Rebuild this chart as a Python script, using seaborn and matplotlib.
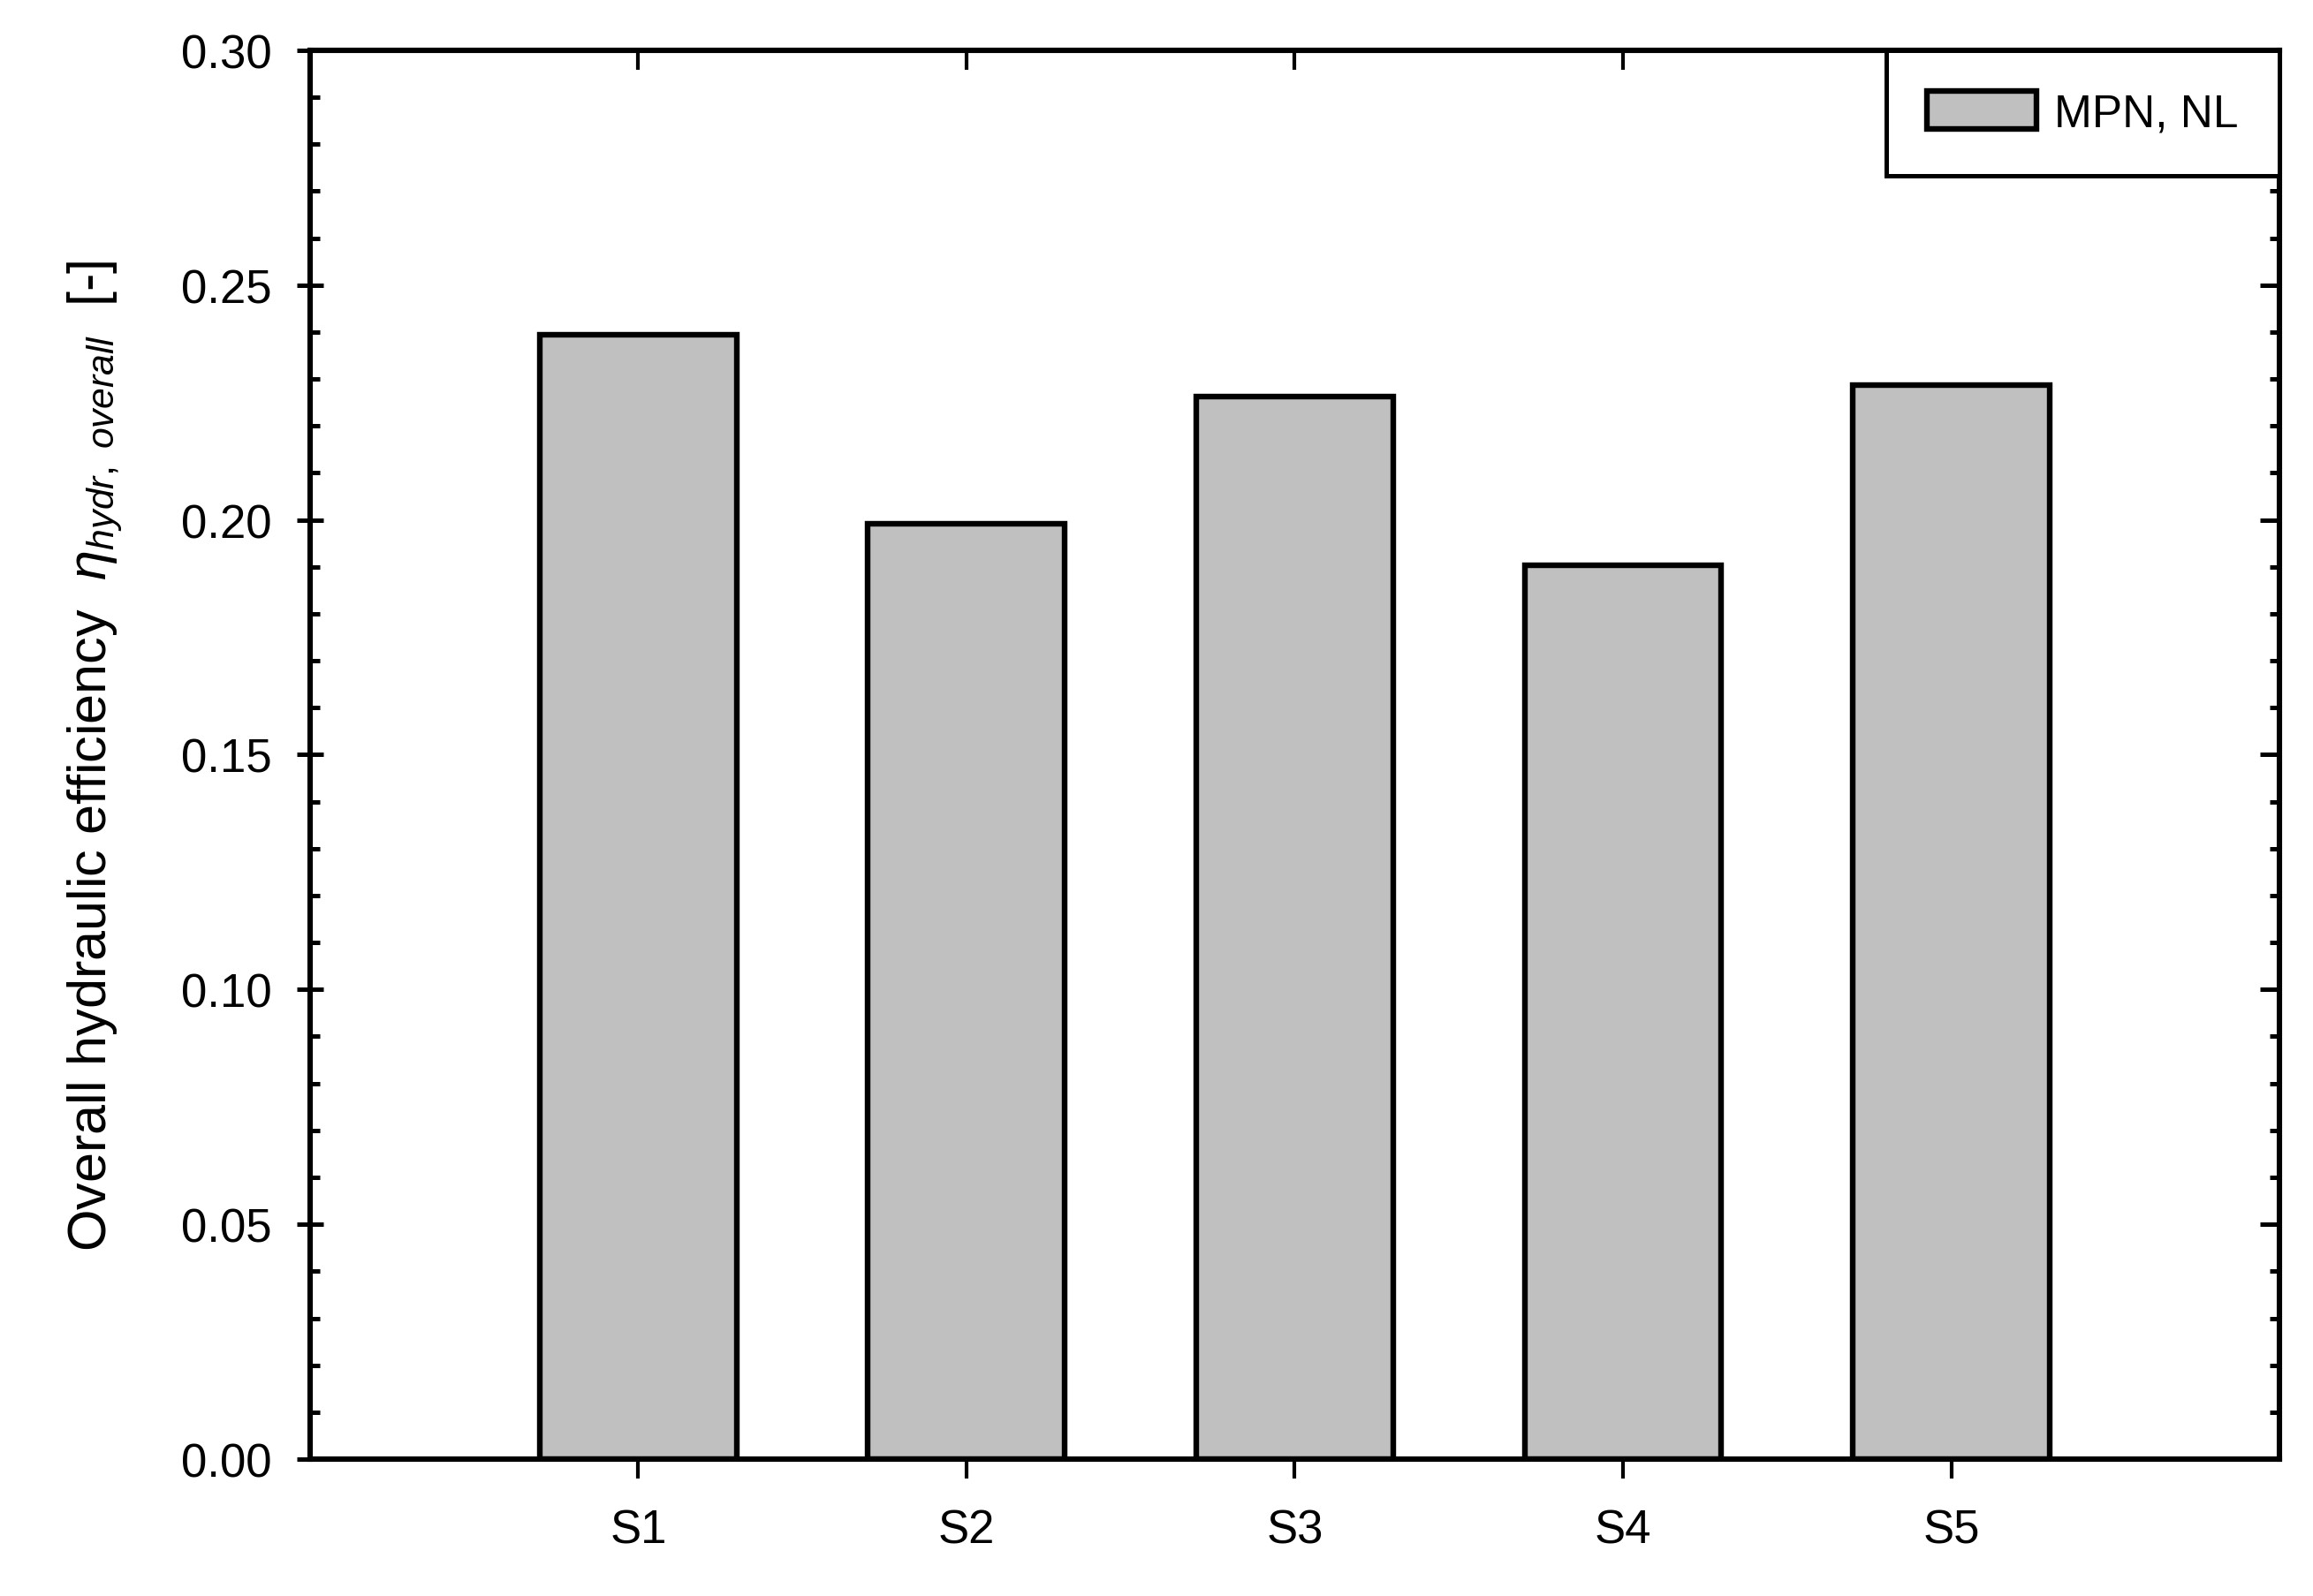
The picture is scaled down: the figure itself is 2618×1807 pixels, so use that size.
import matplotlib
matplotlib.use("Agg")
import matplotlib.pyplot as plt
import seaborn as sns
import pandas as pd
from matplotlib.ticker import MultipleLocator

categories = ["S1", "S2", "S3", "S4", "S5"]
values = [0.2394, 0.1992, 0.2262, 0.1904, 0.2287]
series_name = "MPN, NL"

sns.set_theme(style="white")
plt.rcParams['font.family'] = ['Liberation Sans', 'DejaVu Sans']
plt.rcParams['mathtext.fontset'] = 'custom'
plt.rcParams['mathtext.rm'] = 'Liberation Sans'
plt.rcParams['mathtext.it'] = 'Liberation Sans:italic'
plt.rcParams['text.color'] = 'black'
plt.rcParams['axes.labelcolor'] = 'black'
plt.rcParams['xtick.color'] = 'black'
plt.rcParams['ytick.color'] = 'black'

df = pd.DataFrame({"cat": categories, "val": values})

fig = plt.figure(figsize=(26.18, 18.08), dpi=100)
ax = fig.add_axes([0.134, 0.0857, 0.8515, 0.8823])

sns.barplot(data=df, x="cat", y="val", color="#c0c0c0", saturation=1,
            edgecolor="black", linewidth=4.6, width=0.6, label=series_name, ax=ax)

ax.set_xlim(-1, 5)
ax.set_ylim(0, 0.30)
ax.yaxis.set_major_locator(MultipleLocator(0.05))
ax.yaxis.set_minor_locator(MultipleLocator(0.01))
ax.yaxis.set_major_formatter(matplotlib.ticker.FormatStrFormatter('%.2f'))

for s in ax.spines.values():
    s.set_linewidth(4.4)
    s.set_color("black")
    s.set_visible(True)

ax.tick_params(axis='y', which='major', direction='inout', length=22, width=3.6,
               labelsize=38, pad=20, left=True, right=False, colors='black')
ax.tick_params(axis='y', which='minor', direction='in', length=8, width=3.6, left=True, right=False)
ax.tick_params(axis='x', which='major', direction='out', length=16, width=3,
               labelsize=38, pad=24, bottom=True, top=False, colors='black')

# top and right mirrored ticks pointing inward
secx = ax.secondary_xaxis('top')
secx.set_xticks(range(len(categories)))
secx.tick_params(direction='in', length=16, width=3, labeltop=False)
secx.spines['top'].set_visible(False)
secy = ax.secondary_yaxis('right')
secy.yaxis.set_major_locator(MultipleLocator(0.05))
secy.yaxis.set_minor_locator(MultipleLocator(0.01))
secy.tick_params(which='major', direction='in', length=16, width=3.6, labelright=False)
secy.tick_params(which='minor', direction='in', length=8, width=3.6)
secy.spines['right'].set_visible(False)

ax.set_xlabel("")
ax.set_ylabel(r"Overall hydraulic efficiency  $\eta_{hydr,\ overall}$  [-]", fontsize=44, labelpad=46)

leg = ax.legend(loc='upper right', borderaxespad=0, fancybox=False, fontsize=37,
                handlelength=2.4, handleheight=0.9, borderpad=0.9, handletextpad=0.4,
                framealpha=1)
leg.get_frame().set_edgecolor('black')
leg.get_frame().set_linewidth(3.6)

fig.savefig("out.png", dpi=100, facecolor="white")
